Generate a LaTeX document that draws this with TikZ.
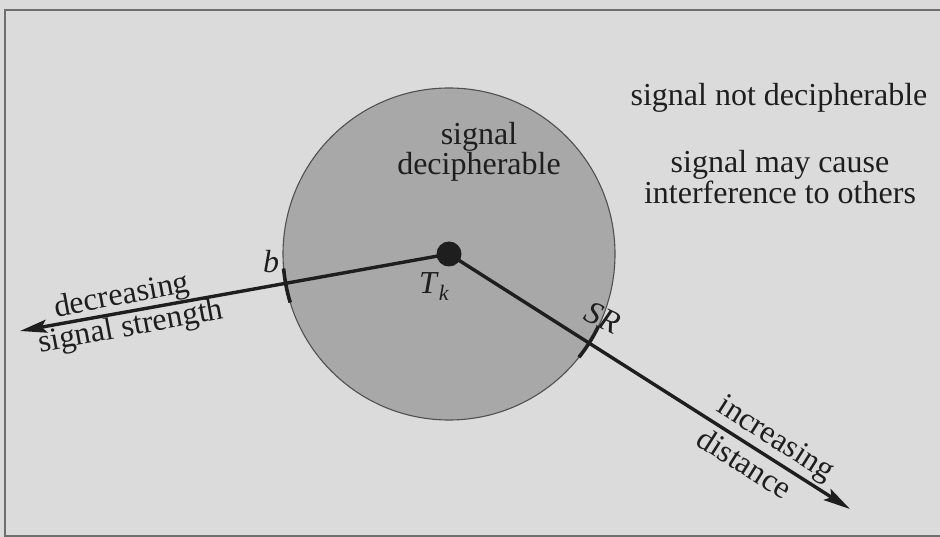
\documentclass[tikz,border=0pt]{standalone}
\usepackage{fontspec}
\setmainfont{Liberation Serif}
\usetikzlibrary{arrows.meta,calc}
\definecolor{paper}{RGB}{219,219,219}
\definecolor{disc}{RGB}{168,168,168}
\definecolor{ink}{RGB}{30,30,30}
\definecolor{rim}{RGB}{80,80,80}
\definecolor{frameclr}{RGB}{110,110,110}
\tikzset{
  lbl/.style={inner sep=0pt, text=ink, font=\fontsize{32}{28.5}\selectfont, align=center},
  ray/.style={draw=ink, line width=3.4pt, -{Stealth[length=27pt,width=13pt,inset=5pt]}},
  tick/.style={draw=ink, line width=3.6pt},
}
\begin{document}
\begin{tikzpicture}[x=1pt,y=-1pt]
\useasboundingbox (0,0) rectangle (940,537);
\fill[paper] (0,0) rectangle (940,537);
\draw[frameclr, line width=1.5pt] (945,10) -- (5,10) -- (5,536) -- (945,536);
% disc
\node[circle, minimum size=332pt, inner sep=0pt, fill=disc, draw=rim, line width=1.1pt] (disc) at (449,254) {};
% transmitter
\node[circle, fill=ink, minimum size=25pt, inner sep=0pt] (tk) at (449,254) {};
\coordinate (left) at (20,331);
\coordinate (right) at (850,509);
\draw[ray] (tk.center) -- (left);
\draw[ray] (tk.center) -- (right);
% ticks on the rim
\draw[tick] ($(449,254)+(163:166)$) arc[start angle=163, end angle=175, radius=166];
\draw[tick] ($(449,254)+(26:166)$) arc[start angle=26, end angle=38.5, radius=166];
% labels
\node[lbl] (b) at (271,262) {\textit{b}};
\node[lbl] (tklbl) at (434,287) {\textit{T}\raisebox{-7pt}{\fontsize{22}{22}\selectfont\textit{k}}};
\node[lbl, rotate=-25] (sr) at (603,318) {\textit{SR}};
\node[lbl] (in) at (479,152) {signal\\decipherable};
\node[lbl] (notd) at (779,97.5) {signal not decipherable};
\node[lbl] (intf) at (780,177) {signal may cause\\interference to others};
\node[lbl, rotate=10.6] (dec) at (122,297) {decreasing};
\node[lbl, rotate=10.6] (ss) at (131,328) {signal strength};
\node[lbl, rotate=-32.5] (inc) at (775,440) {increasing};
\node[lbl, rotate=-32.5] (dist) at (745,463) {distance};
\end{tikzpicture}
\end{document}
